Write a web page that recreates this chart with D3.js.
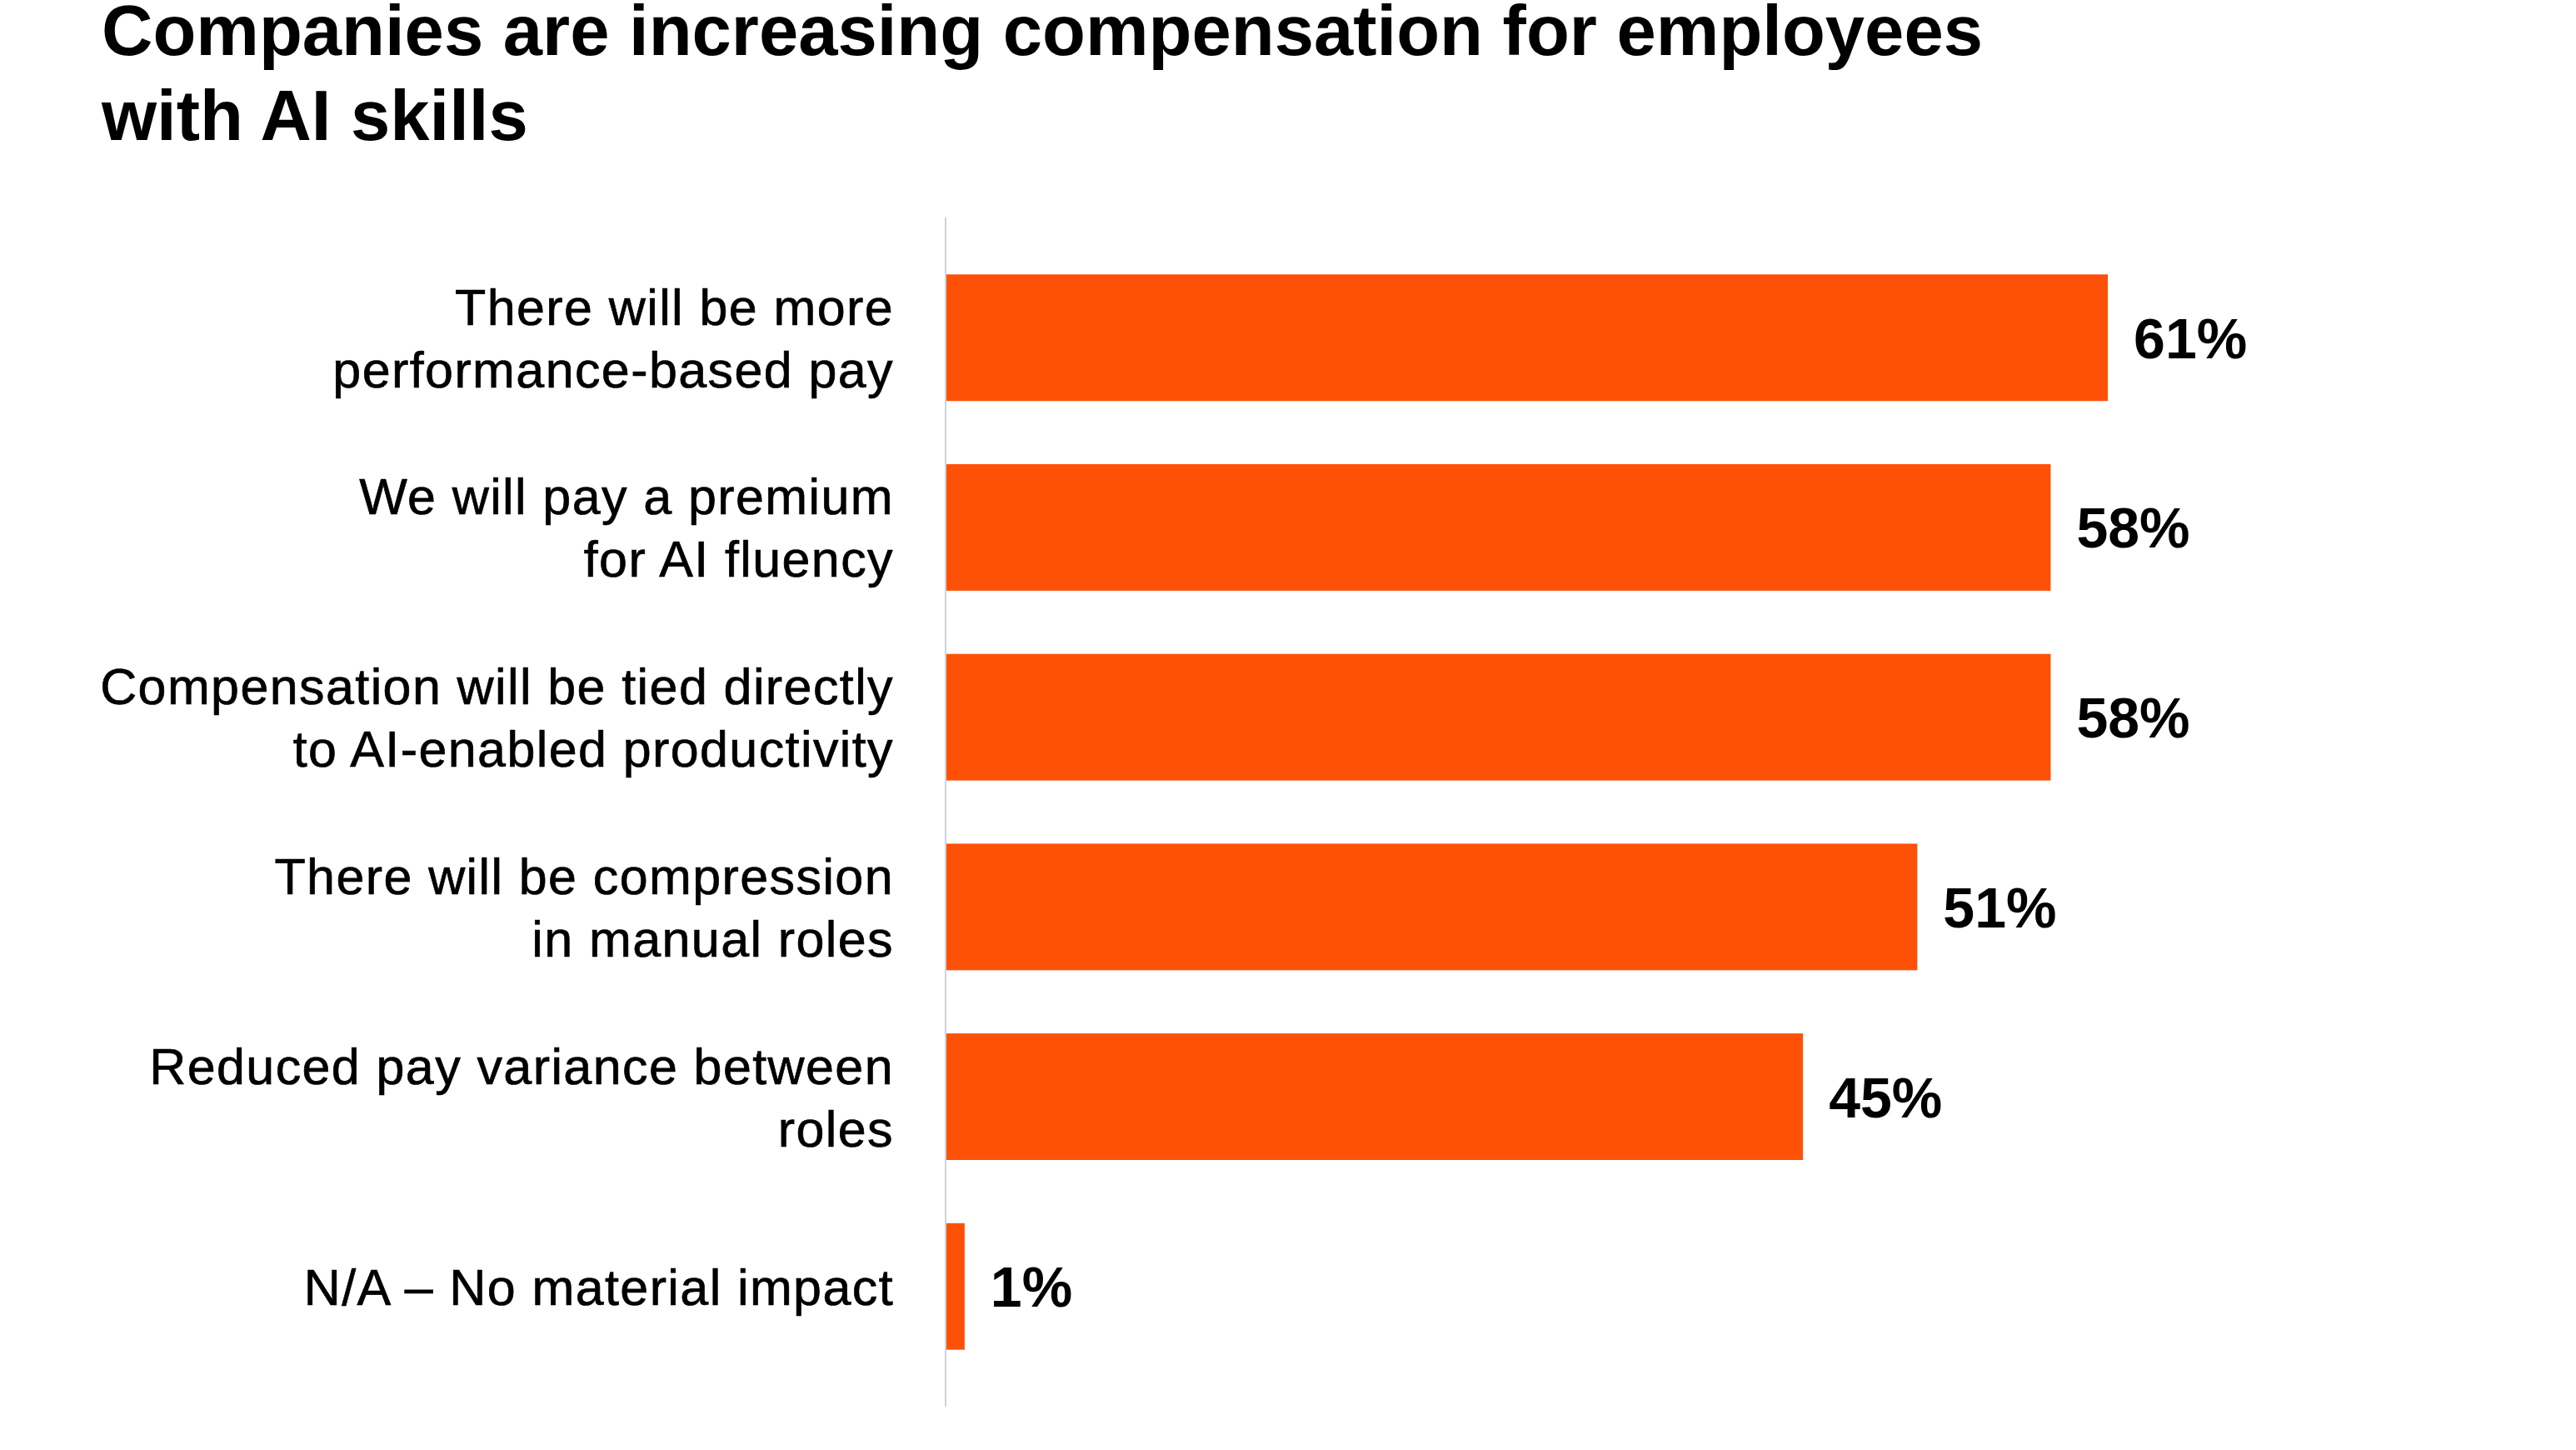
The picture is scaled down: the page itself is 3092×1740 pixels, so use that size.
<!DOCTYPE html>
<script src="https://d3js.org/d3.v7.min.js"></script>
<body style="margin:0;background:#fff">
<svg width="3092" height="1740"></svg>
<script>
var titleLines = ["Companies are increasing compensation for employees", "with AI skills"];

var categories = [
  "There will be more performance-based pay",
  "We will pay a premium for AI fluency",
  "Compensation will be tied directly to AI-enabled productivity",
  "There will be compression in manual roles",
  "Reduced pay variance between roles",
  "N/A \u2013 No material impact"
];

var labelLines = [
  ["There will be more", "performance-based pay"],
  ["We will pay a premium", "for AI fluency"],
  ["Compensation will be tied directly", "to AI-enabled productivity"],
  ["There will be compression", "in manual roles"],
  ["Reduced pay variance between", "roles"],
  ["N/A \u2013 No material impact"]
];

var values = [61, 58, 58, 51, 45, 1];

var svg = d3.select("svg"),
    font = "'Liberation Sans', Arial, sans-serif";

var x = d3.scaleLinear()
    .domain([0, 100])
    .range([1135, 3422]);

var y = d3.scaleBand()
    .domain(categories)
    .range([261, 1688])
    .paddingInner(0.333)
    .paddingOuter(0.3);

// title
svg.append("g")
  .selectAll("text")
  .data(titleLines)
  .enter().append("text")
    .attr("x", 122)
    .attr("y", function(d, i) { return 66 + i * 102; })
    .attr("font-family", font)
    .attr("font-weight", "bold")
    .attr("font-size", 85)
    .attr("fill", "#000")
    .text(function(d) { return d; });

// bars
svg.append("g")
  .selectAll("rect")
  .data(values)
  .enter().append("rect")
    .attr("x", x(0))
    .attr("y", function(d, i) { return y(categories[i]); })
    .attr("width", function(d) { return x(d) - x(0); })
    .attr("height", y.bandwidth())
    .attr("fill", "#fd5108");

// axis line
svg.append("line")
    .attr("x1", x(0))
    .attr("x2", x(0))
    .attr("y1", y.range()[0])
    .attr("y2", y.range()[1])
    .attr("stroke", "#cfd3da")
    .attr("stroke-width", 2);

// category labels
var lab = svg.append("g")
  .selectAll("text")
  .data(categories)
  .enter().append("text")
    .attr("text-anchor", "end")
    .attr("font-family", font)
    .attr("font-size", 61)
    .attr("letter-spacing", 1.4)
    .attr("fill", "#000")
    .attr("stroke", "#000")
    .attr("stroke-width", 0.7);

lab.each(function(d, i) {
  var lines = labelLines[i],
      cy = y(d) + y.bandwidth() / 2,
      lh = 75;
  d3.select(this).selectAll("tspan")
    .data(lines)
    .enter().append("tspan")
      .attr("x", x(0) - 62)
      .attr("y", function(l, j) { return cy + (j - (lines.length - 1) / 2) * lh; })
      .attr("dy", "0.36em")
      .text(function(l) { return l; });
});

// value labels
svg.append("g")
  .selectAll("text")
  .data(values)
  .enter().append("text")
    .attr("x", function(d) { return x(d) + 31; })
    .attr("y", function(d, i) { return y(categories[i]) + y.bandwidth() / 2; })
    .attr("dy", "0.36em")
    .attr("font-family", font)
    .attr("font-weight", "bold")
    .attr("font-size", 68)
    .attr("fill", "#000")
    .text(function(d) { return d + "%"; });
</script>
</body>
